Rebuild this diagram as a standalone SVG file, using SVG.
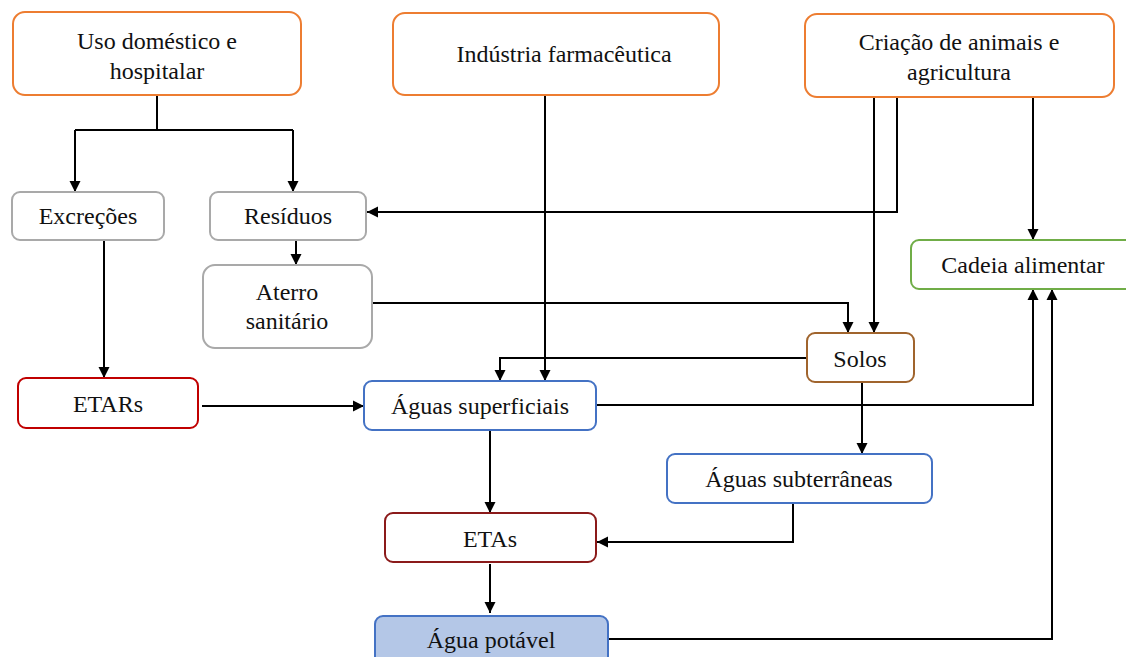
<svg xmlns="http://www.w3.org/2000/svg" width="1126" height="657" viewBox="0 0 1126 657">
<defs>
<marker id="ah" markerUnits="userSpaceOnUse" markerWidth="12" markerHeight="12" refX="11" refY="6" orient="auto">
<path d="M0,0.5 L11,6 L0,11.5 z" fill="#000"/>
</marker>
<style>
.n{fill:#fff;stroke-width:2}
.o{stroke:#ED7D31}
.g{stroke:#A9A9A9}
.r{stroke:#C00000}
.b{stroke:#4472C4}
.m{stroke:#8B1A1A}
.br{stroke:#A0642D}
.gr{stroke:#70AD47}
.t{font-size:24px;fill:#111;text-anchor:middle}
.c{fill:none;stroke:#000;stroke-width:2;marker-end:url(#ah)}
.cl{fill:none;stroke:#000;stroke-width:2}
</style>
</defs>
<rect width="1126" height="657" fill="#fff"/>
<g id="connectors">
<path class="cl" d="M157,95 V130 M75,130 H293"/>
<path class="c" d="M75,130 V192"/>
<path class="c" d="M293,130 V192"/>
<path class="c" d="M104,240 V378"/>
<path class="c" d="M296,240 V265"/>
<path class="c" d="M545,95 V381"/>
<path class="c" d="M897,97 V212 H367"/>
<path class="c" d="M874,97 V333"/>
<path class="c" d="M1033,97 V240"/>
<path class="c" d="M372,303 H848 V333"/>
<path class="c" d="M807,358 H500 V381"/>
<path class="c" d="M202,406 H364"/>
<path class="c" d="M596,405 H1033 V289"/>
<path class="c" d="M862,382 V454"/>
<path class="c" d="M490,430 V513"/>
<path class="c" d="M793,503 V542 H597"/>
<path class="c" d="M490,564 V613"/>
<path class="c" d="M608,639 H1052 V289"/>
</g>
<g font-family="Liberation Serif, Times New Roman, DejaVu Serif, serif">
<g id="uso"><rect class="n o" x="13" y="12" width="288" height="83" rx="12"/><text class="t" x="157" y="49">Uso doméstico e</text><text class="t" x="157" y="79">hospitalar</text></g>
<g id="industria"><rect class="n o" x="393" y="13" width="326" height="82" rx="12"/><text class="t" x="564" y="62">Indústria farmacêutica</text></g>
<g id="criacao"><rect class="n o" x="805" y="14" width="309" height="83" rx="12"/><text class="t" x="959" y="50">Criação de animais e</text><text class="t" x="959" y="80">agricultura</text></g>
<g id="excrecoes"><rect class="n g" x="12" y="192" width="152" height="48" rx="8"/><text class="t" x="88" y="224">Excreções</text></g>
<g id="residuos"><rect class="n g" x="210" y="192" width="156" height="48" rx="8"/><text class="t" x="288" y="224">Resíduos</text></g>
<g id="aterro"><rect class="n g" x="203" y="265" width="169" height="83" rx="12"/><text class="t" x="287" y="300">Aterro</text><text class="t" x="287" y="329">sanitário</text></g>
<g id="cadeia"><rect class="n gr" x="911" y="240" width="230" height="49" rx="8"/><text class="t" x="1023" y="273">Cadeia alimentar</text></g>
<g id="solos"><rect class="n br" x="807" y="333" width="107" height="49" rx="8"/><text class="t" x="860" y="367">Solos</text></g>
<g id="etars"><rect class="n r" x="18" y="378" width="180" height="50" rx="8"/><text class="t" x="108" y="412">ETARs</text></g>
<g id="superficiais"><rect class="n b" x="364" y="381" width="232" height="49" rx="8"/><text class="t" x="480" y="414">Águas superficiais</text></g>
<g id="subterraneas"><rect class="n b" x="667" y="454" width="265" height="49" rx="8"/><text class="t" x="799" y="487">Águas subterrâneas</text></g>
<g id="etas"><rect class="n m" x="385" y="513" width="211" height="49" rx="8"/><text class="t" x="490" y="547">ETAs</text></g>
<g id="potavel"><rect x="375" y="616" width="233" height="60" rx="8" fill="#B4C7E7" stroke="#4472C4" stroke-width="2"/><text class="t" x="491" y="648">Água potável</text></g>
</g>
</svg>
